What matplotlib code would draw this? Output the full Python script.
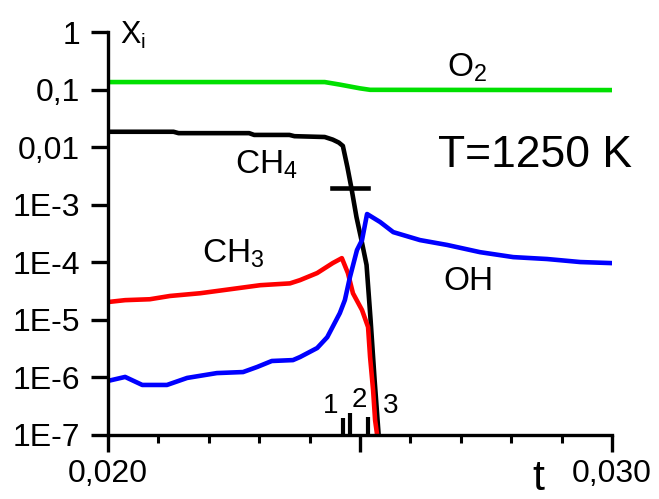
import numpy as np
import matplotlib.pyplot as plt
from matplotlib.ticker import FixedLocator, LogLocator, NullFormatter

plt.rcParams['font.family'] = ['Liberation Sans', 'DejaVu Sans']
plt.rcParams['mathtext.default'] = 'regular'

# O2 (green)
t_o2 = [0.0200, 0.0243, 0.0246, 0.0250, 0.0252, 0.0300]
x_o2 = [0.135, 0.135, 0.122, 0.105, 0.099, 0.098]

# CH4 (black)
t_ch4 = [0.0200, 0.0213, 0.0214, 0.0228, 0.0229, 0.0236, 0.0237, 0.0243, 0.02446, 0.02458,
         0.02466, 0.02475, 0.02483, 0.02493, 0.02503, 0.02513, 0.02521, 0.02529, 0.02537]
x_ch4 = [0.0185, 0.0185, 0.0175, 0.0175, 0.0163, 0.0163, 0.0155, 0.015, 0.0135, 0.012,
         0.0105, 4.5e-3, 1.94e-3, 6.1e-4, 2.4e-4, 9e-5, 1.0e-5, 9e-7, 1e-7]

# CH3 (red)
t_ch3 = [0.0200, 0.02034, 0.02083, 0.02123, 0.02183, 0.02242, 0.02302, 0.02361, 0.02381,
         0.02415, 0.02446, 0.02464, 0.02476, 0.02486, 0.02504, 0.02516, 0.0252, 0.02526,
         0.0253, 0.02534]
x_ch3 = [2.04e-5, 2.2e-5, 2.28e-5, 2.6e-5, 2.9e-5, 3.4e-5, 4.0e-5, 4.3e-5, 4.9e-5,
         6.5e-5, 9.7e-5, 1.18e-4, 6.5e-5, 2.9e-5, 1.48e-5, 7.5e-6, 2.26e-6, 6e-7,
         1.8e-7, 1.0e-7]

# OH (blue)
t_oh = [0.0200, 0.02034, 0.02068, 0.02117, 0.02157, 0.02216, 0.02268, 0.02296, 0.02325,
        0.02367, 0.02381, 0.02415, 0.02435, 0.0246, 0.0247, 0.0248, 0.02494, 0.02504,
        0.02514, 0.0254, 0.02566, 0.02619, 0.02673, 0.02738, 0.02804, 0.02871, 0.02937,
        0.02996]
x_oh = [8.7e-7, 1.02e-6, 7.4e-7, 7.4e-7, 9.8e-7, 1.19e-6, 1.24e-6, 1.52e-6, 1.93e-6,
        2.0e-6, 2.26e-6, 3.24e-6, 5.0e-6, 1.31e-5, 2.21e-5, 5.5e-5, 1.63e-4, 2.43e-4,
        6.9e-4, 5.0e-4, 3.34e-4, 2.43e-4, 2.0e-4, 1.5e-4, 1.23e-4, 1.14e-4, 1.01e-4,
        9.7e-5]

# markers 1, 2, 3 at the bottom
t_mark = [0.02466, 0.0248, 0.02516]
h_mark = [1.97e-7, 2.4e-7, 2.05e-7]
mark_lbl = ['1', '2', '3']
mark_pos = [(0.024425, 2.4e-7), (0.02498, 3.06e-7), (0.025615, 2.4e-7)]

# horizontal bar on CH4
t_bar = [0.02444, 0.02516]
y_bar = 1.94e-3

yt = [1e-7, 1e-6, 1e-5, 1e-4, 1e-3, 1e-2, 1e-1, 1]
yt_lbl = ['1E-7', '1E-6', '1E-5', '1E-4', '1E-3', '0,01', '0,1', '1']
xt = [0.020, 0.025, 0.030]
xt_lbl = ['0,020', '', '0,030']

fig = plt.figure(figsize=(6.59, 4.99), dpi=100)
ax = fig.add_axes([108/659, 1-435/499, 504/659, 403/499])

ax.plot(t_o2, x_o2, color='#00e000', lw=3.3)
ax.plot(t_ch4, x_ch4, color='black', lw=3.3)
ax.plot(t_ch3, x_ch3, color='#ff0000', lw=3.3)
ax.plot(t_oh, x_oh, color='#0000ff', lw=3.3)
ax.plot(t_bar, [y_bar, y_bar], color='black', lw=3.3)
ax.vlines(t_mark, 1e-7, h_mark, color='black', lw=3)
for lbl, (tx, ty) in zip(mark_lbl, mark_pos):
    ax.text(tx, ty, lbl, fontsize=20, ha='center', va='baseline')

ax.set_yscale('log')
ax.set_xlim(0.020, 0.030)
ax.set_ylim(1e-7, 1)
ax.set_yticks(yt)
ax.set_yticklabels(yt_lbl)
ax.yaxis.set_minor_locator(LogLocator(base=10, subs=np.arange(2, 10)))
ax.yaxis.set_minor_formatter(NullFormatter())
ax.set_xticks(xt)
ax.set_xticklabels(xt_lbl)
ax.xaxis.set_minor_locator(FixedLocator(np.arange(0.021, 0.030, 0.001)))

for s in ['top', 'right']:
    ax.spines[s].set_visible(False)
for s in ['left', 'bottom']:
    ax.spines[s].set_linewidth(2.4)
ax.tick_params(which='major', direction='out', length=12, width=2.4, labelsize=23, pad=5)
ax.tick_params(which='minor', direction='out', length=6, width=2.2)
ax.tick_params(axis='y', which='major', pad=8)

ax.text(0.02024, 0.62, 'X$_i$', fontsize=22, ha='left', va='baseline')
ax.text(0.02673, 0.165, 'O$_2$', fontsize=24, ha='left', va='baseline')
ax.text(0.02252, 3.54e-3, 'CH$_4$', fontsize=24, ha='left', va='baseline')
ax.text(0.02654, 4.5e-3, 'T=1250 K', fontsize=32, ha='left', va='baseline')
ax.text(0.02187, 9.7e-5, 'CH$_3$', fontsize=24, ha='left', va='baseline')
ax.text(0.02665, 3.29e-5, 'OH', fontsize=24, ha='left', va='baseline')
ax.text(0.02853, 1.1e-8, 't', fontsize=31, ha='center', va='baseline')

fig.savefig('out.png', dpi=100)
